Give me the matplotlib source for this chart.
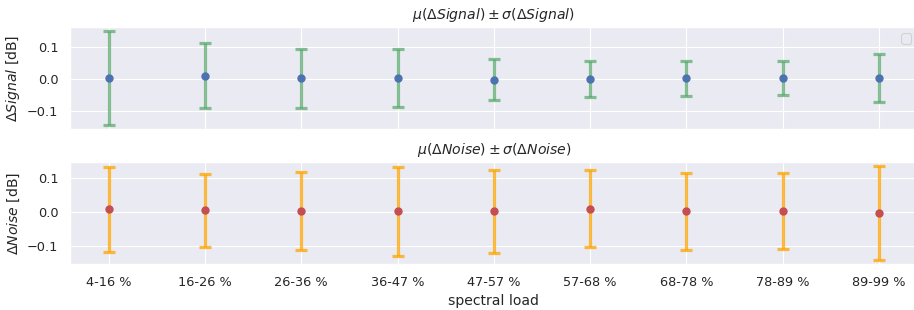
import matplotlib
matplotlib.use("Agg")
from matplotlib import pyplot as plt
import seaborn as sns
import numpy as np

# spectral load bins
loads = ['4-16 %', '16-26 %', '26-36 %', '36-47 %', '47-57 %',
         '57-68 %', '68-78 %', '78-89 %', '89-99 %']

# delta signal stats [dB]
sig_mean = [0.004, 0.011, 0.002, 0.003, -0.002, -0.001, 0.002, 0.003, 0.003]
sig_std = [0.147, 0.101, 0.093, 0.091, 0.064, 0.056, 0.054, 0.053, 0.075]

# delta noise stats [dB]
noise_mean = [0.008, 0.005, 0.004, 0.002, 0.002, 0.010, 0.002, 0.003, -0.003]
noise_std = [0.127, 0.109, 0.116, 0.133, 0.123, 0.115, 0.114, 0.114, 0.140]

sns.set_theme(context='paper', style='darkgrid', font_scale=1.05)
pal = sns.color_palette()

fig, (ax1, ax2) = plt.subplots(2, 1, figsize=(9.14, 3.10), dpi=100, sharex=True)
fig.subplots_adjust(left=0.0766, right=1.004, top=0.913, bottom=0.148, hspace=0.32)

x = np.arange(len(loads))

# ------------------ signal ------------------ #
ax1.errorbar(x, sig_mean, yerr=sig_std, fmt='none', ecolor=pal[2], alpha=0.7,
             elinewidth=2.3, capsize=4, capthick=2.3)
ax1.plot(x, sig_mean, 'o', color=pal[0], markersize=5)
ax1.set_ylim(-0.156, 0.1625)
ax1.set_yticks([-0.1, 0.0, 0.1])
ax1.set_ylabel(r'$\Delta Signal$ [dB]')
ax1.set_title(r'$\mu(\Delta Signal) \pm \sigma(\Delta Signal)$')
ax1.legend(handles=[], loc='upper right')
ax1.tick_params(axis='x', labelbottom=False)

# ------------------ noise ------------------ #
ax2.errorbar(x, noise_mean, yerr=noise_std, fmt='none', ecolor='orange', alpha=0.75,
             elinewidth=2.3, capsize=4, capthick=2.3)
ax2.plot(x, noise_mean, 'o', color=pal[3], markersize=5)
ax2.set_ylim(-0.155, 0.149)
ax2.set_yticks([-0.1, 0.0, 0.1])
ax2.set_ylabel(r'$\Delta Noise$ [dB]')
ax2.set_title(r'$\mu(\Delta Noise) \pm \sigma(\Delta Noise)$')
ax2.set_xticks(x)
ax2.set_xticklabels(loads)
ax2.set_xlabel('spectral load')

fig.savefig('out.png', dpi=100)
